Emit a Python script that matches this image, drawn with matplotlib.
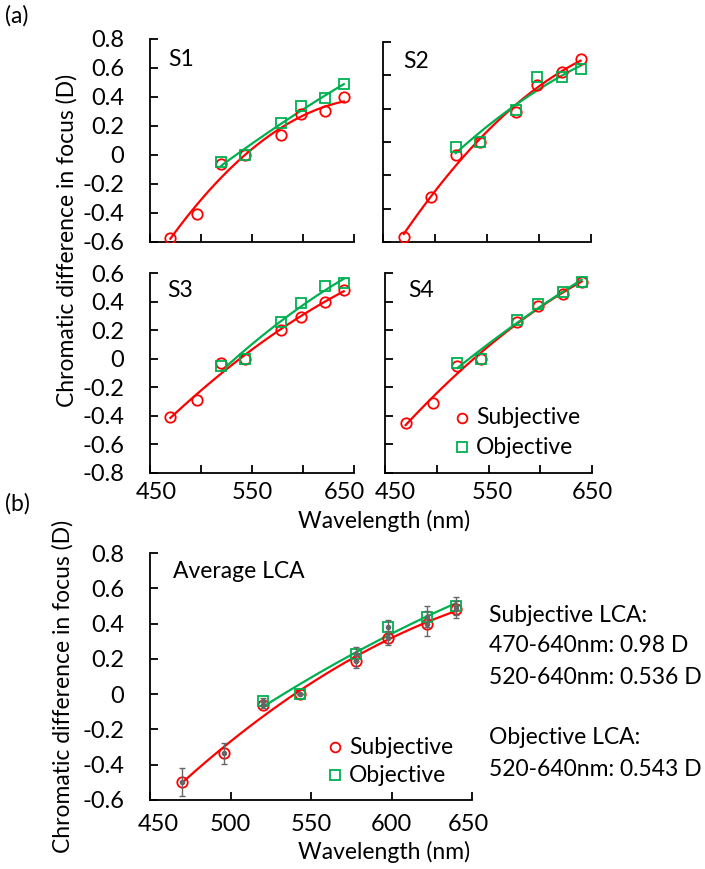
import numpy as np
import matplotlib
matplotlib.use('Agg')
from matplotlib import pyplot as plt
from matplotlib import transforms

plt.rcParams['font.family'] = ['Lato', 'DejaVu Sans']
plt.rcParams['axes.unicode_minus'] = False

# wavelengths (nm)
wl_subj = [470, 496, 520, 543, 578, 598, 622, 640]
wl_obj = [520, 543, 578, 598, 622, 640]

# chromatic difference in focus (D)
s1_subj = [-0.57, -0.41, -0.06, 0.0, 0.14, 0.28, 0.30, 0.40]
s1_obj = [-0.05, 0.0, 0.22, 0.34, 0.39, 0.49]
s2_subj = [-0.57, -0.33, -0.08, 0.0, 0.18, 0.34, 0.42, 0.50]
s2_obj = [-0.03, 0.0, 0.19, 0.39, 0.39, 0.44]
s3_subj = [-0.41, -0.29, -0.03, 0.0, 0.20, 0.29, 0.40, 0.48]
s3_obj = [-0.05, 0.0, 0.26, 0.39, 0.51, 0.53]
s4_subj = [-0.45, -0.31, -0.05, 0.0, 0.26, 0.37, 0.45, 0.54]
s4_obj = [-0.03, 0.0, 0.27, 0.38, 0.47, 0.54]

avg_subj = [-0.50, -0.335, -0.06, 0.0, 0.19, 0.32, 0.40, 0.48]
avg_subj_err = [0.08, 0.06, 0.02, 0.0, 0.04, 0.04, 0.07, 0.05]
avg_obj = [-0.04, 0.0, 0.23, 0.38, 0.44, 0.50]
avg_obj_err = [0.02, 0.0, 0.04, 0.04, 0.06, 0.05]

panel_names = ['S1', 'S2', 'S3', 'S4']

RED = '#FF0000'
GREEN = '#00B050'
W, H = 705, 869
FS = 16.5
TFS = 17

fig = plt.figure(figsize=(W / 100, H / 100), dpi=100)


def px_axes(l, t, r, b):
    return fig.add_axes([l / W, 1 - b / H, (r - l) / W, (b - t) / H])


def ftext(x, y, s, **kw):
    fig.text(x / W, 1 - y / H, s, fontsize=FS, **kw)


def fmt(v):
    if abs(v) < 1e-9:
        return '0'
    return '%.1f' % v


def fit_line(ax, x, y, color):
    p = np.polyfit(x, y, 2)
    xx = np.linspace(min(x), max(x), 100)
    ax.plot(xx, np.polyval(p, xx), color=color, lw=1.6, zorder=2)


def style(ax, ylo, yhi, xticks, xlabels, ylabels, xpad, shifts=None):
    for s in ['top', 'right']:
        ax.spines[s].set_visible(False)
    for s in ['left', 'bottom']:
        ax.spines[s].set_linewidth(1.3)
    ax.set_xlim(450, 650)
    ax.set_ylim(ylo, yhi)
    ax.set_xticks(xticks)
    ax.set_xticklabels(xlabels)
    yt = np.round(np.arange(ylo, yhi + 0.01, 0.2), 2)
    ax.set_yticks(yt)
    if ylabels:
        ax.set_yticklabels([fmt(v) for v in yt])
    else:
        ax.set_yticklabels([])
    ax.tick_params(direction='in', length=6, width=1.3, labelsize=TFS)
    ax.tick_params(axis='y', pad=18.5)
    ax.tick_params(axis='x', pad=xpad)
    ax.patch.set_alpha(0)
    if shifts:
        labs = ax.get_xticklabels()
        for k, dx in shifts.items():
            off = transforms.ScaledTranslation(dx / 100, 0, fig.dpi_scale_trans)
            labs[k].set_transform(labs[k].get_transform() + off)


def draw_series(ax, subj, obj):
    fit_line(ax, wl_subj, subj, RED)
    fit_line(ax, wl_obj, obj, GREEN)
    ax.plot(wl_subj, subj, 'o', ms=7.5, mfc='none', mec=RED, mew=1.3, zorder=3)
    ax.plot(wl_obj, obj, 's', ms=7.5, mfc='none', mec=GREEN, mew=1.3, zorder=4)


boxes = [(150, 39, 354, 242), (383, 42, 591, 242),
         (150, 273, 354, 473), (385, 273, 592, 473)]
ylims = [(-0.6, 0.8), (-0.6, 0.6), (-0.8, 0.6), (-0.8, 0.6)]
subj_all = [s1_subj, s2_subj, s3_subj, s4_subj]
obj_all = [s1_obj, s2_obj, s3_obj, s4_obj]
name_pos = [(168, 60), (403, 61), (167, 291), (408, 291)]
label_shifts = [None, None, {0: 6, 4: -10}, {0: 10, 2: 4}]

for i in range(4):
    ax = px_axes(*boxes[i])
    xt = [450, 500, 550, 600, 650]
    if i >= 2:
        xl = ['450', '', '550', '', '650']
    else:
        xl = ['', '', '', '', '']
    style(ax, ylims[i][0], ylims[i][1], xt, xl, i % 2 == 0, 6.5, label_shifts[i])
    draw_series(ax, subj_all[i], obj_all[i])
    ftext(name_pos[i][0], name_pos[i][1], panel_names[i], va='center', ha='left')

# legend in S4
fig.lines.append(plt.Line2D([462 / W], [1 - 418 / H], transform=fig.transFigure,
                            marker='o', ms=7, mfc='none', mec=RED, mew=1.3))
fig.lines.append(plt.Line2D([462 / W], [1 - 447 / H], transform=fig.transFigure,
                            marker='s', ms=7, mfc='none', mec=GREEN, mew=1.3))
ftext(476, 418, 'Subjective', va='center', ha='left')
ftext(476, 447, 'Objective', va='center', ha='left')

ftext(384, 521, 'Wavelength (nm)', va='center', ha='center')
ftext(67, 240, 'Chromatic difference in focus (D)', va='center', ha='center', rotation=90)
ftext(17, 16, '(a)', va='center', ha='center')
ftext(17, 504, '(b)', va='center', ha='center')

# (b) average panel
axb = px_axes(150, 553, 472, 800)
style(axb, -0.6, 0.8, [450, 500, 550, 600, 650],
      ['450', '500', '550', '600', '650'], True, 10, {0: 8, 4: -4})
fit_line(axb, wl_subj, avg_subj, RED)
fit_line(axb, wl_obj, avg_obj, GREEN)
axb.errorbar(wl_subj, avg_subj, yerr=avg_subj_err, fmt='o', ms=3, color='0.4',
             ecolor='0.4', elinewidth=1, capsize=2, zorder=5)
axb.errorbar(wl_obj, avg_obj, yerr=avg_obj_err, fmt='o', ms=3, color='0.4',
             ecolor='0.4', elinewidth=1, capsize=2, zorder=5)
axb.plot(wl_subj, avg_subj, 'o', ms=7.5, mfc='none', mec=RED, mew=1.3, zorder=3)
axb.plot(wl_obj, avg_obj, 's', ms=7.5, mfc='none', mec=GREEN, mew=1.3, zorder=4)

ftext(173, 572, 'Average LCA', va='center', ha='left')
fig.lines.append(plt.Line2D([335 / W], [1 - 747 / H], transform=fig.transFigure,
                            marker='o', ms=7, mfc='none', mec=RED, mew=1.3))
fig.lines.append(plt.Line2D([335 / W], [1 - 775 / H], transform=fig.transFigure,
                            marker='s', ms=7, mfc='none', mec=GREEN, mew=1.3))
ftext(349, 747, 'Subjective', va='center', ha='left')
ftext(349, 775, 'Objective', va='center', ha='left')

ftext(384, 852, 'Wavelength (nm)', va='center', ha='center')
ftext(63, 686, 'Chromatic difference in focus (D)', va='center', ha='center', rotation=90)

ftext(489, 615, 'Subjective LCA:', va='center', ha='left')
ftext(489, 645, '470-640nm: 0.98 D', va='center', ha='left')
ftext(489, 677, '520-640nm: 0.536 D', va='center', ha='left')
ftext(489, 738, 'Objective LCA:', va='center', ha='left')
ftext(489, 770, '520-640nm: 0.543 D', va='center', ha='left')

fig.savefig('out.png', dpi=100)
